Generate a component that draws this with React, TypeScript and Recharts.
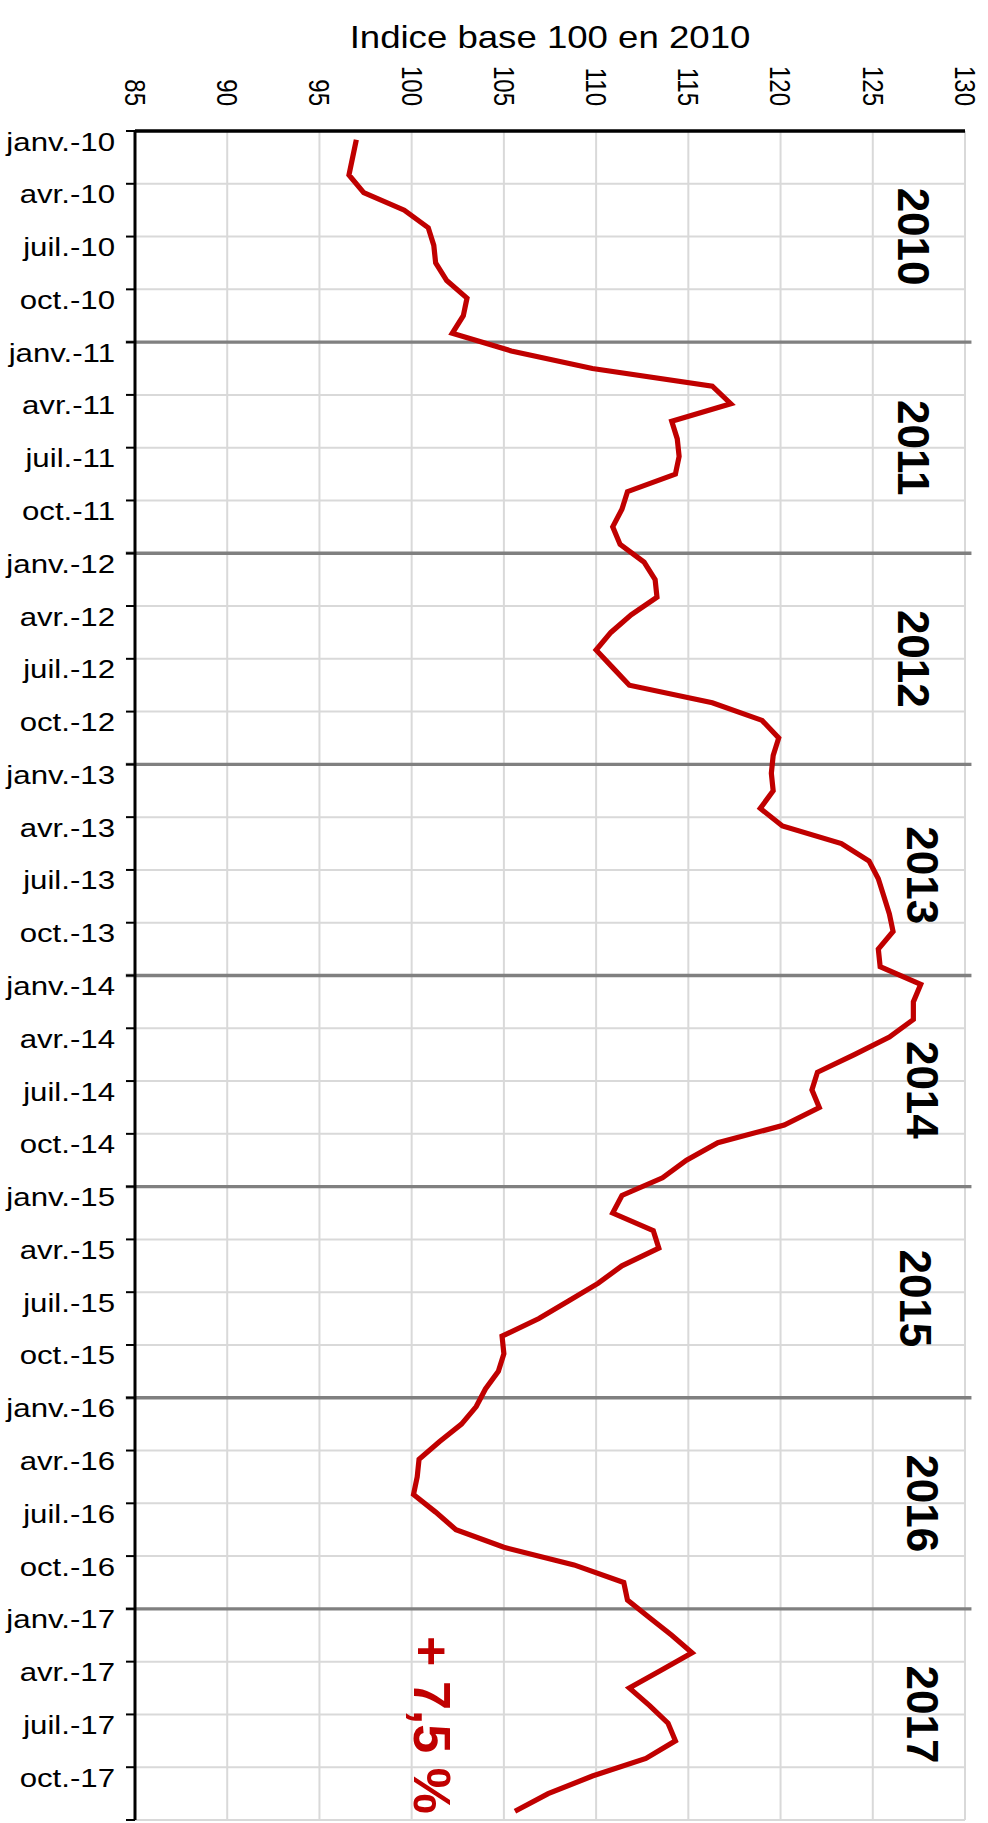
import React from 'react'
import { LineChart, Line, XAxis, YAxis, CartesianGrid, ReferenceLine, ReferenceDot, Label } from 'recharts'

const FONT = '"Liberation Sans", Arial, sans-serif'
const RED = '#c00000'

// indice mensuel (base 100 en 2010), janv. -> déc.
const idx2010 = [97.0, 96.8, 96.6, 97.4, 99.6, 100.9, 101.2, 101.3, 101.9, 103.0, 102.8, 102.2]
const idx2011 = [105.4, 109.8, 116.3, 117.3, 114.1, 114.4, 114.5, 114.3, 111.7, 111.4, 110.9, 111.3]
const idx2012 = [112.6, 113.2, 113.3, 111.9, 110.8, 110.0, 110.9, 111.8, 116.3, 119.0, 119.9, 119.6]
const idx2013 = [119.5, 119.6, 118.9, 120.1, 123.3, 124.8, 125.3, 125.6, 125.9, 126.1, 125.3, 125.4]
const idx2014 = [127.6, 127.2, 127.2, 125.9, 124.0, 122.0, 121.7, 122.1, 120.2, 116.6, 114.9, 113.6]
const idx2015 = [111.4, 110.9, 113.1, 113.4, 111.4, 110.1, 108.5, 106.9, 104.9, 105.0, 104.7, 104.0]
const idx2016 = [103.5, 102.7, 101.5, 100.4, 100.3, 100.1, 101.3, 102.4, 105.0, 108.8, 111.5, 111.7]
const idx2017 = [112.9, 114.1, 115.2, 113.5, 111.8, 112.9, 113.9, 114.3, 112.7, 109.8, 107.4, 105.6]

const yearLabels = ['2010', '2011', '2012', '2013', '2014', '2015', '2016', '2017']

const monthTickLabels = [
  'janv.-10', 'avr.-10', 'juil.-10', 'oct.-10',
  'janv.-11', 'avr.-11', 'juil.-11', 'oct.-11',
  'janv.-12', 'avr.-12', 'juil.-12', 'oct.-12',
  'janv.-13', 'avr.-13', 'juil.-13', 'oct.-13',
  'janv.-14', 'avr.-14', 'juil.-14', 'oct.-14',
  'janv.-15', 'avr.-15', 'juil.-15', 'oct.-15',
  'janv.-16', 'avr.-16', 'juil.-16', 'oct.-16',
  'janv.-17', 'avr.-17', 'juil.-17', 'oct.-17',
]

const valueTicks = [85, 90, 95, 100, 105, 110, 115, 120, 125, 130]

const changeLabel = '+ 7,5 %'

// where the annotations sit, in data units (index value, month number)
const yearLabelPos = [
  [127.2, 6], [127.2, 18], [127.2, 30], [127.7, 42.3],
  [127.7, 54.5], [127.3, 66.35], [127.7, 78], [127.7, 90],
]
const changeLabelPos = [101.1, 90.6]

const series = [idx2010, idx2011, idx2012, idx2013, idx2014, idx2015, idx2016, idx2017].flat()
const rows = series.map((v, i) => ({ t: i + 0.5, v }))
const monthTicks = monthTickLabels.map((_, i) => i * 3).concat([series.length])
const yearStarts = yearLabels.slice(1).map((_, i) => (i + 1) * 12)

const TopTick = ({ x, payload }: any) => (
  <text
    transform={`translate(${x},106) scale(1.2,1) rotate(90)`}
    textAnchor="end"
    dy="0.35em"
    fontSize={24}
    fontFamily={FONT}
    fill="#000"
  >
    {payload.value}
  </text>
)

const LeftTick = ({ y, payload }: any) => {
  const label = monthTickLabels[Math.round(payload.value / 3)] ?? ''
  return (
    <text
      transform={`translate(115,${y + 19.5}) scale(1.2,1)`}
      textAnchor="end"
      fontSize={26}
      fontFamily={FONT}
      fill="#000"
    >
      {label}
    </text>
  )
}

const Title = ({ viewBox }: any) => (
  <text
    transform={`translate(${viewBox.x + viewBox.width / 2},48) scale(1.2,1)`}
    textAnchor="middle"
    fontSize={30.5}
    fontFamily={FONT}
    fill="#000"
  >
    Indice base 100 en 2010
  </text>
)

const rotatedLabel = (text: string, size: number, color: string) => ({ viewBox }: any) => {
  const cx = viewBox.x + viewBox.width / 2
  const cy = viewBox.y + viewBox.height / 2
  return (
    <text
      transform={`translate(${cx},${cy}) rotate(90)`}
      textAnchor="middle"
      dy="0.35em"
      fontSize={size}
      fontWeight="bold"
      fontFamily={FONT}
      fill={color}
    >
      {text}
    </text>
  )
}

export default function App() {
  return (
    <div style={{ position: 'absolute', left: 0, top: 0 }}>
      <LineChart
        width={988}
        height={1823}
        layout="vertical"
        data={rows}
        margin={{ top: 0, right: 23, bottom: 3, left: 0 }}
      >
        <CartesianGrid stroke="#d9d9d9" strokeWidth={2} />
        <XAxis
          type="number"
          dataKey="v"
          orientation="top"
          domain={[85, 130]}
          ticks={valueTicks}
          interval={0}
          height={131}
          tickLine={false}
          axisLine={{ stroke: '#000', strokeWidth: 3.3 }}
          tick={<TopTick />}
        >
          <Label content={<Title />} />
        </XAxis>
        <YAxis
          type="number"
          dataKey="t"
          domain={[0, 96]}
          ticks={monthTicks}
          interval={0}
          width={135}
          tickSize={9}
          tickLine={{ stroke: '#000', strokeWidth: 2 }}
          axisLine={{ stroke: '#000', strokeWidth: 3 }}
          tick={<LeftTick />}
        />
        {yearStarts.map(t => (
          <ReferenceLine
            key={t}
            segment={[{ x: 84.5, y: t }, { x: 130.35, y: t }]}
            ifOverflow="visible"
            stroke="#808080"
            strokeWidth={3.3}
          />
        ))}
        {yearLabels.map((yr, i) => (
          <ReferenceDot
            key={yr}
            x={yearLabelPos[i][0]}
            y={yearLabelPos[i][1]}
            r={1}
            fill="none"
            stroke="none"
            label={{ content: rotatedLabel(yr, 44, '#000') }}
          />
        ))}
        <ReferenceDot
          x={changeLabelPos[0]}
          y={changeLabelPos[1]}
          r={1}
          fill="none"
          stroke="none"
          label={{ content: rotatedLabel(changeLabel, 52, RED) }}
        />
        <Line
          dataKey="v"
          stroke={RED}
          strokeWidth={5.2}
          dot={false}
          activeDot={false}
          isAnimationActive={false}
        />
      </LineChart>
    </div>
  )
}
